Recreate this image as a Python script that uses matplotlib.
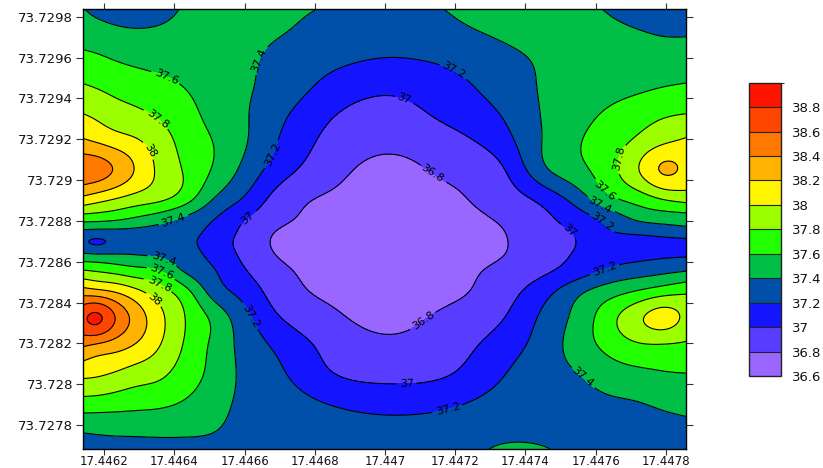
import numpy as np
import matplotlib
matplotlib.use("Agg")
import matplotlib.pyplot as plt
from matplotlib.colors import ListedColormap, BoundaryNorm
from matplotlib.cm import ScalarMappable
from matplotlib.ticker import FuncFormatter, FixedLocator

plt.rcParams["font.family"] = ["DejaVu Sans"]

# Grid node coordinates (longitude-like x, latitude-like y; y listed north to south)
x_nodes = [17.4461385, 17.4461764, 17.4462305, 17.4462875, 17.4463530, 17.4464299,
           17.4465068, 17.4465866, 17.4466863, 17.4468430, 17.4470140, 17.4471849,
           17.4473416, 17.4474556, 17.4475553, 17.4476464, 17.4477262, 17.4477917,
           17.4478573]
y_nodes = [73.7298377, 73.7297349, 73.7296124, 73.7294654, 73.7293185, 73.7291960,
           73.7290491, 73.7289021, 73.7288042, 73.7287454, 73.7286964, 73.7286376,
           73.7285592, 73.7284613, 73.7283290, 73.7281919, 73.7280449, 73.7278980,
           73.7277755, 73.7276824]

# Measured values on the grid, one row per y node (north to south)
z_rows = [
    [37.41, 37.35, 37.30, 37.28, 37.32, 37.42, 37.47, 37.47, 37.45, 37.38, 37.32, 37.41, 37.46, 37.47, 37.44, 37.38, 37.33, 37.30, 37.28],
    [37.50, 37.47, 37.43, 37.41, 37.42, 37.46, 37.50, 37.49, 37.43, 37.32, 37.27, 37.36, 37.44, 37.49, 37.48, 37.44, 37.40, 37.37, 37.37],
    [37.63, 37.61, 37.57, 37.54, 37.52, 37.51, 37.50, 37.46, 37.36, 37.26, 37.21, 37.26, 37.36, 37.44, 37.50, 37.52, 37.51, 37.49, 37.48],
    [37.81, 37.78, 37.73, 37.69, 37.65, 37.59, 37.52, 37.44, 37.34, 37.15, 37.05, 37.14, 37.30, 37.42, 37.47, 37.52, 37.56, 37.59, 37.61],
    [38.01, 37.97, 37.90, 37.85, 37.78, 37.67, 37.55, 37.44, 37.27, 37.02, 36.93, 37.05, 37.22, 37.42, 37.53, 37.65, 37.73, 37.78, 37.81],
    [38.22, 38.17, 38.09, 38.02, 37.90, 37.73, 37.60, 37.45, 37.22, 36.95, 36.85, 36.94, 37.14, 37.42, 37.59, 37.72, 37.84, 37.95, 38.02],
    [38.52, 38.50, 38.38, 38.19, 37.97, 37.78, 37.59, 37.38, 37.12, 36.87, 36.75, 36.84, 37.00, 37.37, 37.55, 37.75, 38.01, 38.22, 38.15],
    [38.12, 38.06, 37.98, 37.90, 37.83, 37.67, 37.40, 37.20, 36.94, 36.77, 36.70, 36.76, 36.90, 37.06, 37.30, 37.55, 37.68, 37.79, 37.85],
    [37.65, 37.64, 37.61, 37.55, 37.47, 37.35, 37.21, 37.03, 36.86, 36.72, 36.68, 36.72, 36.83, 36.96, 37.10, 37.28, 37.42, 37.46, 37.48],
    [37.35, 37.33, 37.34, 37.34, 37.32, 37.27, 37.15, 36.98, 36.80, 36.70, 36.67, 36.70, 36.80, 36.94, 37.03, 37.19, 37.24, 37.28, 37.32],
    [37.23, 37.18, 37.24, 37.28, 37.29, 37.25, 37.12, 36.96, 36.78, 36.68, 36.65, 36.68, 36.79, 36.93, 37.01, 37.10, 37.13, 37.14, 37.15],
    [37.42, 37.40, 37.40, 37.39, 37.36, 37.28, 37.15, 36.98, 36.80, 36.69, 36.66, 36.69, 36.80, 36.94, 37.02, 37.10, 37.14, 37.16, 37.17],
    [37.80, 37.77, 37.72, 37.66, 37.60, 37.37, 37.22, 37.04, 36.86, 36.72, 36.68, 36.72, 36.86, 36.97, 37.10, 37.24, 37.30, 37.34, 37.38],
    [38.26, 38.22, 38.15, 38.03, 37.88, 37.65, 37.32, 37.14, 36.92, 36.76, 36.70, 36.75, 36.92, 37.12, 37.35, 37.50, 37.60, 37.68, 37.74],
    [38.75, 38.84, 38.60, 38.33, 38.07, 37.80, 37.56, 37.30, 37.03, 36.84, 36.74, 36.85, 37.00, 37.25, 37.48, 37.75, 37.97, 38.08, 37.95],
    [38.43, 38.38, 38.30, 38.19, 38.02, 37.78, 37.57, 37.36, 37.17, 36.94, 36.84, 36.92, 37.10, 37.30, 37.50, 37.68, 37.78, 37.79, 37.77],
    [38.04, 38.02, 37.97, 37.90, 37.84, 37.70, 37.55, 37.38, 37.25, 37.02, 36.95, 37.00, 37.20, 37.33, 37.40, 37.50, 37.55, 37.58, 37.59],
    [37.70, 37.69, 37.67, 37.65, 37.63, 37.57, 37.48, 37.37, 37.30, 37.20, 37.14, 37.18, 37.28, 37.32, 37.35, 37.37, 37.39, 37.42, 37.44],
    [37.42, 37.43, 37.44, 37.44, 37.44, 37.43, 37.41, 37.35, 37.30, 37.27, 37.26, 37.28, 37.34, 37.34, 37.33, 37.33, 37.34, 37.35, 37.36],
    [37.33, 37.33, 37.33, 37.34, 37.35, 37.36, 37.35, 37.33, 37.30, 37.29, 37.28, 37.30, 37.43, 37.41, 37.34, 37.32, 37.31, 37.30, 37.30],
]

levels = [36.6, 36.8, 37.0, 37.2, 37.4, 37.6, 37.8, 38.0, 38.2, 38.4, 38.6, 38.8]
top_bound = 39.0
band_colors = ["#9966FF", "#583CFF", "#1414FF", "#0050AA", "#00BE46", "#22FF00",
               "#9BFF00", "#FFF500", "#FFB300", "#FF7800", "#FF4600", "#FF1400"]

x_ticks = [17.4462, 17.4464, 17.4466, 17.4468, 17.447, 17.4472, 17.4474, 17.4476, 17.4478]
y_ticks = [73.7278, 73.728, 73.7282, 73.7284, 73.7286, 73.7288, 73.729, 73.7292,
           73.7294, 73.7296, 73.7298]


def spline_weights(t, s):
    """Natural cubic spline weights mapping node values at t to values at s."""
    t = np.asarray(t, float)
    s = np.asarray(s, float)
    n = len(t)
    h = np.diff(t)
    A = np.zeros((n, n))
    R = np.zeros((n, n))
    A[0, 0] = A[-1, -1] = 1.0
    for i in range(1, n - 1):
        A[i, i - 1] = h[i - 1] / 6
        A[i, i] = (h[i - 1] + h[i]) / 3
        A[i, i + 1] = h[i] / 6
        R[i, i - 1] = 1 / h[i - 1]
        R[i, i] = -1 / h[i - 1] - 1 / h[i]
        R[i, i + 1] = 1 / h[i]
    M = np.linalg.solve(A, R)
    W = np.zeros((len(s), n))
    idx = np.clip(np.searchsorted(t, s) - 1, 0, n - 2)
    for k, (sv, i) in enumerate(zip(s, idx)):
        a = (t[i + 1] - sv) / h[i]
        b = (sv - t[i]) / h[i]
        W[k, i] += a
        W[k, i + 1] += b
        W[k] += (a ** 3 - a) * h[i] ** 2 / 6 * M[i] + (b ** 3 - b) * h[i] ** 2 / 6 * M[i + 1]
    return W


xn = np.array(x_nodes)
yn = np.array(y_nodes)[::-1]
Z = np.array(z_rows)[::-1]

# Smooth surface on a fine grid (work relative to the first node for precision)
xf = np.linspace(xn[0], xn[-1], 400)
yf = np.linspace(yn[0], yn[-1], 400)
Wx = spline_weights((xn - xn[0]) * 1e4, (xf - xn[0]) * 1e4)
Wy = spline_weights((yn - yn[0]) * 1e4, (yf - yn[0]) * 1e4)
Zf = Wy @ Z @ Wx.T

W_PX, H_PX = 823, 468
fig = plt.figure(figsize=(W_PX / 100, H_PX / 100), dpi=100)
ax = fig.add_axes([82.7 / W_PX, 19 / H_PX, 603.3 / W_PX, 440 / H_PX])

fill_bounds = [-100.0] + levels[1:] + [100.0]
ax.contourf(xf, yf, Zf, levels=fill_bounds, colors=band_colors)
line_levels = levels[1:]
cs = ax.contour(xf, yf, Zf, levels=line_levels, colors="black", linewidths=0.8)

ax.set_xlim(xn[0], xn[-1])
ax.set_ylim(yn[0], yn[-1])

ax.xaxis.set_major_locator(FixedLocator(x_ticks))
ax.yaxis.set_major_locator(FixedLocator(y_ticks))
fmt = FuncFormatter(lambda v, p: f"{v:.4f}".rstrip("0").rstrip("."))
ax.xaxis.set_major_formatter(fmt)
ax.yaxis.set_major_formatter(fmt)
ax.tick_params(direction="out", width=0.8, color="#333333",
               top=True, right=True, labeltop=False, labelright=False,
               labelcolor="#111111")
ax.tick_params(axis="x", length=4, pad=0.5, labelsize=8.5)
ax.tick_params(axis="y", length=5, pad=2, labelsize=9.5)
for sp in ax.spines.values():
    sp.set_linewidth(1.0)
    sp.set_color("black")

# Contour label anchor points in figure pixels (from top-left)
label_px = [(167, 77), (160, 117), (152, 150), (257, 60), (277, 157), (173, 220),
            (248, 218), (450, 77), (403, 100), (430, 177), (163, 262), (163, 270),
            (160, 284), (157, 297), (253, 315), (427, 325), (407, 383), (447, 405),
            (568, 232), (602, 222), (600, 205), (607, 188), (614, 157), (605, 268),
            (583, 377)]
inv = ax.transData.inverted()
manual = [tuple(inv.transform((px, H_PX - py))) for px, py in label_px]
ax.clabel(cs, manual=manual, inline=True, inline_spacing=3, fontsize=8,
          fmt=lambda v: f"{v:g}")

# Colour key
cax = fig.add_axes([749.3 / W_PX, (H_PX - 376) / H_PX, 32 / W_PX, 293.3 / H_PX])
cmap = ListedColormap(band_colors)
norm = BoundaryNorm(levels + [top_bound], cmap.N)
cb = fig.colorbar(ScalarMappable(norm=norm, cmap=cmap), cax=cax,
                  drawedges=True, ticks=levels)
cb.outline.set_linewidth(1.0)
cb.outline.set_edgecolor("#222222")
cb.dividers.set_color("#222222")
cb.dividers.set_linewidth(0.8)
cax.yaxis.set_major_formatter(FuncFormatter(lambda v, p: f"{v:g}"))
cax.tick_params(length=0, pad=8, labelsize=9.5, labelcolor="#111111")

fig.savefig("out.png", dpi=100)
